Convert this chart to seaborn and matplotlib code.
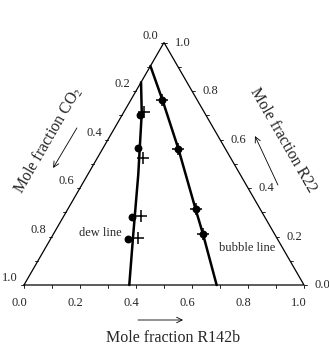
import numpy as np
import seaborn as sns
import matplotlib
matplotlib.use("Agg")
import matplotlib.pyplot as plt

# mole fractions (R142b, R22); CO2 = 1 - R142b - R22
dew_line_r142b = [0.0, 0.066, 0.181, 0.287, 0.376]
dew_line_r22 = [0.836, 0.709, 0.454, 0.206, 0.0]
bubble_line_r142b = [0.0, 0.113, 0.271, 0.457, 0.535, 0.688]
bubble_line_r22 = [0.903, 0.763, 0.561, 0.312, 0.209, 0.0]

dew_exp_r142b = [0.065, 0.126, 0.244, 0.276]
dew_exp_r22 = [0.701, 0.563, 0.282, 0.188]
dew_calc_r142b = [0.073, 0.165, 0.276, 0.312]
dew_calc_r22 = [0.713, 0.522, 0.285, 0.193]
bubble_exp_r142b = [0.113, 0.271, 0.457, 0.535]
bubble_exp_r22 = [0.763, 0.561, 0.312, 0.209]
bubble_calc_r142b = [0.113, 0.271, 0.457, 0.535]
bubble_calc_r22 = [0.763, 0.561, 0.312, 0.209]

tick_values = [0.0, 0.2, 0.4, 0.6, 0.8, 1.0]
tick_labels = ["0.0", "0.2", "0.4", "0.6", "0.8", "1.0"]

H = np.sqrt(3) / 2


def to_xy(r142b, r22):
    r142b = np.asarray(r142b)
    r22 = np.asarray(r22)
    return r142b + 0.5 * r22, H * r22


sns.set_style("white")
plt.rcParams["font.family"] = ["Liberation Serif", "DejaVu Serif"]
plt.rcParams["mathtext.fontset"] = "stix"

fig = plt.figure(figsize=(3.29, 3.5), dpi=100)
ax = fig.add_axes([0, 0, 1, 1])
S = 280.0  # pixels per unit
ax.set_xlim(-24 / S, (329 - 24) / S)
ax.set_ylim(-65 / S, (350 - 65) / S)
ax.axis("off")

# triangle frame
ax.plot([0, 1, 0.5, 0], [0, 0, H, 0], color="black", lw=0.9, solid_joinstyle="miter")

# ticks every 0.1, labels every 0.2
t = 3 / S
for v in np.round(np.arange(0, 1.01, 0.1), 2):
    ax.plot([v, v], [0, -t], color="black", lw=0.6)
    lx, ly = 0.5 * (1 - v), H * (1 - v)
    ax.plot([lx, lx - t], [ly, ly], color="black", lw=0.6)
    rx, ry = to_xy(1 - v, v)
    ax.plot([rx, rx + t], [ry, ry], color="black", lw=0.6)

fs = 9
for v, lab in zip(tick_values, tick_labels):
    ax.text(v - 5 / S, -17.5 / S, lab, ha="center", va="center", fontsize=fs)
    ax.text(0.5 * (1 - v) - 14 / S, H * (1 - v) + 7 / S, lab, ha="center", va="center", fontsize=fs)
    rx, ry = to_xy(1 - v, v)
    ax.text(rx + 18.5 / S, ry, lab, ha="center", va="center", fontsize=fs)

# phase boundary lines
x, y = to_xy(dew_line_r142b, dew_line_r22)
sns.lineplot(x=x, y=y, sort=False, estimator=None, color="black", lw=1.8, ax=ax)
x, y = to_xy(bubble_line_r142b, bubble_line_r22)
sns.lineplot(x=x, y=y, sort=False, estimator=None, color="black", lw=1.8, ax=ax)

# points
for r142b, r22 in [(dew_exp_r142b, dew_exp_r22), (bubble_exp_r142b, bubble_exp_r22)]:
    x, y = to_xy(r142b, r22)
    sns.scatterplot(x=x, y=y, marker="o", s=32, color="black", edgecolor="black", linewidth=0, ax=ax, zorder=4)
for r142b, r22 in [(dew_calc_r142b, dew_calc_r22), (bubble_calc_r142b, bubble_calc_r22)]:
    x, y = to_xy(r142b, r22)
    sns.scatterplot(x=x, y=y, marker="+", s=70, color="black", linewidth=1.1, ax=ax, zorder=5)

# labels
ax.text(100 / S - 24 / S, (285 - 233) / S, "dew line", ha="center", va="center", fontsize=9)
ax.text(247 / S - 24 / S, (285 - 248) / S, "bubble line", ha="center", va="center", fontsize=9)

tfs = 11.5
ax.text(0.086, 0.518, "Mole fraction CO$_2$", rotation=60, ha="center", va="center",
        fontsize=tfs, rotation_mode="anchor")
ax.text(0.925, 0.518, "Mole fraction R22", rotation=-60, ha="center", va="center",
        fontsize=tfs, rotation_mode="anchor")
ax.text(0.532, -0.189, "Mole fraction R142b", ha="center", va="center", fontsize=tfs)

arrow = dict(arrowstyle="->", color="black", lw=0.6, shrinkA=0, shrinkB=0)
ax.annotate("", xy=(0.104, 0.418), xytext=(0.189, 0.561), arrowprops=arrow)
ax.annotate("", xy=(0.825, 0.532), xytext=(0.907, 0.357), arrowprops=arrow)
ax.annotate("", xy=(0.568, -0.125), xytext=(0.407, -0.125), arrowprops=arrow)

fig.savefig("out.png", dpi=100)
